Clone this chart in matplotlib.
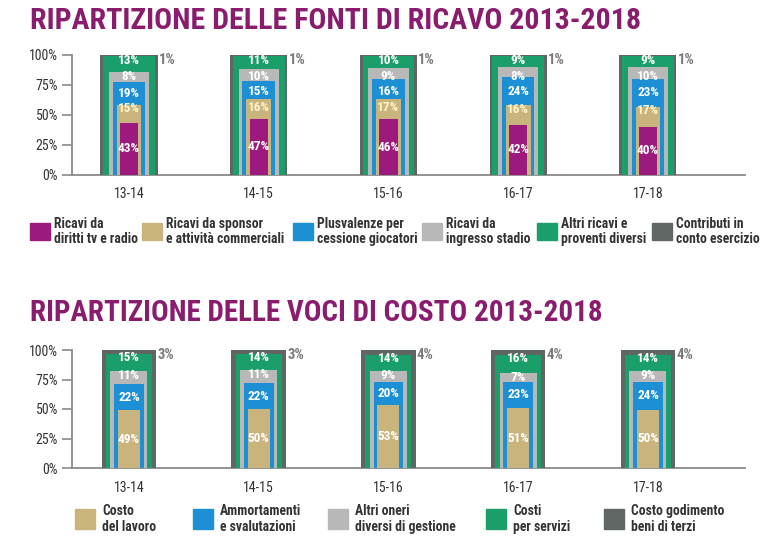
import numpy as np
import matplotlib.pyplot as plt
from matplotlib.patches import Rectangle

plt.rcParams['font.family'] = ['Roboto Condensed', 'DejaVu Sans']
plt.rcParams['font.stretch'] = 'condensed'

W, H = 767, 546

seasons = ["13-14", "14-15", "15-16", "16-17", "17-18"]

# revenue shares (%), from bottom of the stack to the top
rev_names = [
    "Ricavi da\ndiritti tv e radio",
    "Ricavi da sponsor\ne attività commerciali",
    "Plusvalenze per\ncessione giocatori",
    "Ricavi da\ningresso stadio",
    "Altri ricavi e\nproventi diversi",
    "Contributi in\nconto esercizio",
]
rev_tv = [43, 47, 46, 42, 40]
rev_sponsor = [15, 16, 17, 16, 17]
rev_plusvalenze = [19, 15, 16, 24, 23]
rev_stadio = [8, 10, 9, 8, 10]
rev_altri = [13, 11, 10, 9, 9]
rev_contributi = [1, 1, 1, 1, 1]

# cost shares (%)
cost_names = [
    "Costo\ndel lavoro",
    "Ammortamenti\ne svalutazioni",
    "Altri oneri\ndiversi di gestione",
    "Costi\nper servizi",
    "Costo godimento\nbeni di terzi",
]
cost_lavoro = [49, 50, 53, 51, 50]
cost_ammort = [22, 22, 20, 23, 24]
cost_oneri = [11, 11, 9, 7, 9]
cost_servizi = [15, 14, 14, 16, 14]
cost_godimento = [3, 3, 4, 4, 4]

PURPLE = "#9c1a7d"
TAN = "#c9b47d"
BLUE = "#1d8fd5"
LGRAY = "#b8b8b8"
GREEN = "#1a9e6a"
DGRAY = "#5f6663"
TITLE = "#8a1c6e"
AXIS = "#8a8a8a"


def px_rect(x, y, w, h):
    # pixel box (top-left origin) -> figure fraction [l, b, w, h]
    return [x / W, 1 - (y + h) / H, w / W, h / H]


def draw_panel(ax, series, colors, widths, text_colors):
    x = np.arange(len(seasons))
    vals = np.array(series, dtype=float)
    tops = np.cumsum(vals, axis=0) / vals.sum(axis=0) * 100
    n = len(series)

    # nested bars: outermost (full stack) first, inner ones on top
    for i in range(n - 1, -1, -1):
        ax.bar(x, tops[i], width=widths[i], color=colors[i],
               zorder=2 + (n - i), clip_on=False)

    for j, xi in enumerate(x):
        ceiling = 200
        for i in range(n - 2, -1, -1):
            v = vals[i][j]
            lo = tops[i - 1][j] if i > 0 else 0
            # big slices centred, thin ones tucked under their top edge
            y = (lo + tops[i][j]) / 2 if v >= 18 else tops[i][j] - 3.5
            y = min(y, ceiling - 13)
            ceiling = y
            ax.text(xi, y, f"{v:.0f}%", ha="center", va="center",
                    color=text_colors[i], fontsize=9.5, fontweight="bold",
                    zorder=20)

    for xi, v in zip(x, vals[-1]):
        ax.text(xi + widths[-1] / 2 + 0.01, 96, f"{v:.0f}%", ha="left",
                va="center", color="#7a7a7a", fontsize=10.5,
                fontweight="bold", zorder=20)

    ax.set_xlim(-0.439, 4.748)
    ax.set_ylim(0, 100)
    ax.set_yticks([0, 25, 50, 75, 100])
    ax.set_yticklabels(["0%", "25%", "50%", "75%", "100%"])
    ax.set_xticks(x)
    ax.set_xticklabels(seasons)
    ax.tick_params(axis="y", length=7, width=1.2, color=AXIS, pad=3,
                   labelsize=10, labelcolor="#333333")
    ax.tick_params(axis="x", length=0, pad=9, labelsize=10,
                   labelcolor="#333333")
    for s in ["top", "right"]:
        ax.spines[s].set_visible(False)
    for s in ["left", "bottom"]:
        ax.spines[s].set_color(AXIS)
        ax.spines[s].set_linewidth(1.3)


def draw_legend(fig, names, colors, xs, y, sw, sh, gap):
    for name, c, x0 in zip(names, colors, xs):
        fig.add_artist(Rectangle(px_rect(x0, y, sw, sh)[:2], sw / W, sh / H,
                                 transform=fig.transFigure, color=c))
        fig.text((x0 + gap) / W, 1 - (y + sh / 2) / H, name, ha="left",
                 va="center", fontsize=9.8, fontweight="bold",
                 color="#333333", linespacing=1.1)


fig = plt.figure(figsize=(W / 100, H / 100), dpi=100)

fig.text(30 / W, 1 - 21 / H, "RIPARTIZIONE DELLE FONTI DI RICAVO 2013-2018",
         ha="left", va="center", fontsize=21.5, fontweight="bold",
         color=TITLE)
fig.text(30 / W, 1 - 313 / H, "RIPARTIZIONE DELLE VOCI DI COSTO 2013-2018",
         ha="left", va="center", fontsize=21, fontweight="bold",
         color=TITLE)

ax1 = fig.add_axes(px_rect(72, 55, 673, 120))
rev_colors = [PURPLE, TAN, BLUE, LGRAY, GREEN, DGRAY]
draw_panel(ax1,
           [rev_tv, rev_sponsor, rev_plusvalenze, rev_stadio, rev_altri,
            rev_contributi],
           rev_colors,
           [0.14, 0.19, 0.25, 0.31, 0.40, 0.44],
           ["white", "#fff4c8", "white", "white", "white"])
draw_legend(fig, rev_names, rev_colors, [30, 142, 293, 422, 537, 652], 223,
            20, 17, 24)

ax2 = fig.add_axes(px_rect(72, 350, 673, 118))
cost_colors = [TAN, BLUE, LGRAY, GREEN, DGRAY]
draw_panel(ax2,
           [cost_lavoro, cost_ammort, cost_oneri, cost_servizi,
            cost_godimento],
           cost_colors,
           [0.17, 0.23, 0.285, 0.355, 0.42],
           ["white", "white", "white", "white"])
draw_legend(fig, cost_names, cost_colors, [75, 193, 328, 486, 604], 509,
            20, 20, 27)

fig.savefig("out.png", dpi=100)
